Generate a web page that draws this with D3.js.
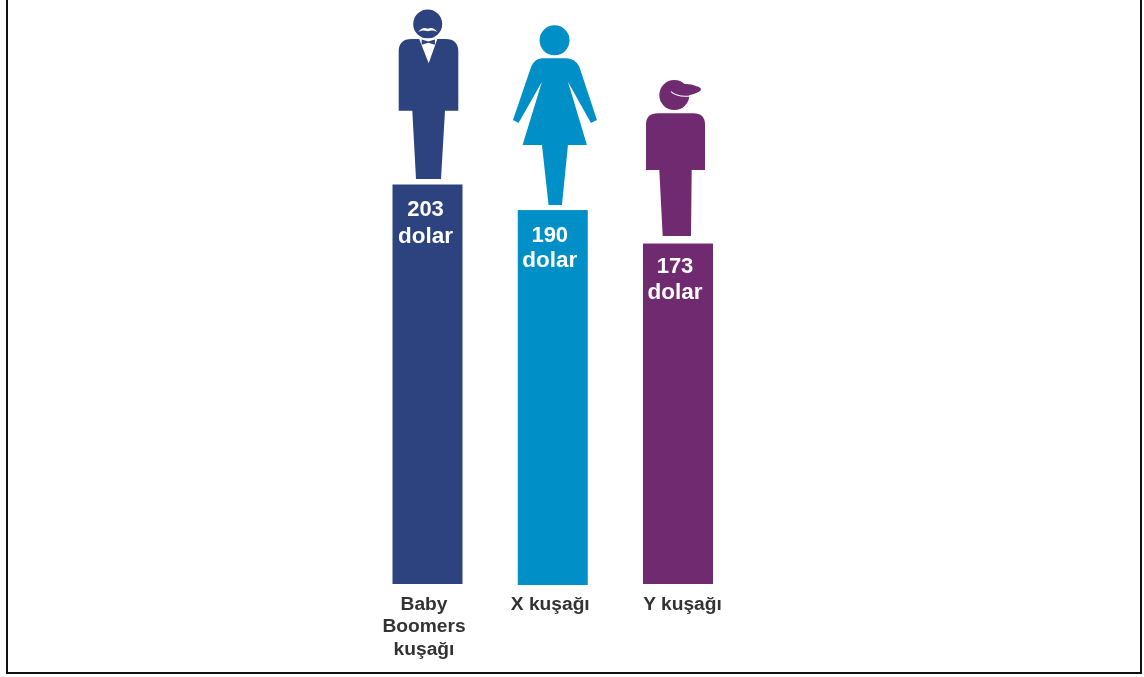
<!DOCTYPE html>
<html><head><meta charset="utf-8">
<style>html,body{margin:0;padding:0;background:#fff}svg{display:block;filter:blur(0.35px)}text{font-family:"Liberation Sans",Arial,sans-serif;font-weight:700}</style>
<script src="https://cdn.jsdelivr.net/npm/d3@7/dist/d3.min.js"></script>
</head><body><div id="chart"></div>
<script>
const generations = ["Baby Boomers kuşağı", "X kuşağı", "Y kuşağı"];
const spending = [203, 190, 173];
const unit = "dolar";
const labelLines = [["Baby", "Boomers", "kuşağı"], ["X kuşağı"], ["Y kuşağı"]];
const barColors = ["#2d437f", "#0090c7", "#702a70"];

const W = 1144, H = 677;
const svg = d3.select("#chart").append("svg").attr("width", W).attr("height", H);

const x = d3.scalePoint().domain(generations).range([427.5, 678]);
const y = d3.scaleLinear().domain([0, 203]).range([584, 184.5]);
const barW = 70;
const bottomNudge = [0, 1, 0];
const valueDx = [-2, -3, -3], labelDx = [-3.5, -2.5, 4.5];
const line1Dy = [31.5, 31.5, 29.5], line2Dy = [58, 56.5, 55];

// Frame
svg.append("path").attr("d", `M7,0V673H1141V0`).attr("fill", "none").attr("stroke", "#111").attr("stroke-width", 2);

// Pictograms, drawn relative to the top-centre of each bar
const man = (g, c) => {
  g.append("circle").attr("cx", .2).attr("cy", -160.5).attr("r", 14.5).attr("fill", c);
  g.append("path").attr("fill", c).attr("d",
    "M-28.8,-133 Q-28.8,-145.5 -16,-145.5 L18,-145.5 Q30.8,-145.5 30.8,-133 L30.8,-73.8 L17.5,-73.8 L13.5,-5.5 L-11.5,-5.5 L-15.2,-73.8 L-28.8,-73.8 Z");
  g.append("path").attr("fill", "#fff").attr("d", "M-8.5,-146 L10,-146 L1.2,-121.2 Z");
  g.append("path").attr("fill", c).attr("d", "M-5.8,-145 L0.8,-143 L7.4,-145 L7.4,-139.8 L0.8,-141.8 L-5.8,-139.8 Z");
  g.append("path").attr("fill", "#fff").attr("d",
    "M-9.2,-152.6 Q-5,-158.4 0.3,-155.8 Q5.5,-158.4 9.8,-152.6 Q5,-155 0.3,-153.2 Q-4.5,-155 -9.2,-152.6 Z");
};
const woman = (g, c) => {
  g.append("circle").attr("cx", 1.8).attr("cy", -169.8).attr("r", 15).attr("fill", c);
  g.append("path").attr("fill", c).attr("d",
    "M-11,-151.8 L14,-151.8 Q22.5,-151.5 26.5,-143.5 L44.2,-90 L38.2,-87 L15.2,-128.4 L34.2,-65 L15.2,-65 L9.2,-5 L-4.2,-5 L-10.8,-65 L-30.2,-65 L-10.8,-128.4 L-34.2,-87 L-39.8,-90 L-21.5,-143.5 Q-18,-151.5 -11,-151.8 Z");
};
const youth = (g, c) => {
  g.append("circle").attr("cx", -3.7).attr("cy", -148.5).attr("r", 15).attr("fill", c);
  g.append("path").attr("fill", c).attr("d",
    "M-6,-158 Q8,-162 21,-156.5 Q25,-154 21,-151.8 Q12,-147.5 3.7,-147.5 Z");
  g.append("path").attr("fill", "none").attr("stroke", "#fff").attr("stroke-width", 1.1).attr("d",
    "M-7,-152 Q-1,-146.3 12,-147.6");
  g.append("path").attr("fill", c).attr("d",
    "M-32,-119 Q-32,-130.2 -20,-130.2 L15,-130.2 Q27,-130.2 27,-119 L27,-73.5 L13.7,-73.5 L13,-7.5 L-15.3,-7.5 L-18.7,-73.5 L-32,-73.5 Z");
};
const icons = [man, woman, youth];

const groups = svg.selectAll("g.bar").data(generations).join("g").attr("class", "bar");

groups.append("rect")
  .attr("x", d => x(d) - barW / 2)
  .attr("width", barW)
  .attr("y", (d, i) => y(spending[i]))
  .attr("height", (d, i) => y(0) - y(spending[i]) + bottomNudge[i])
  .attr("fill", (d, i) => barColors[i]);

groups.append("g")
  .attr("transform", (d, i) => `translate(${x(d)},${y(spending[i])})`)
  .each(function (d, i) { icons[i](d3.select(this), barColors[i]); });

groups.append("text")
  .attr("text-anchor", "middle").attr("fill", "#fff").attr("font-size", 22)
  .attr("x", (d, i) => x(d) + valueDx[i])
  .attr("y", (d, i) => y(spending[i]) + line1Dy[i])
  .text((d, i) => spending[i]);

groups.append("text")
  .attr("text-anchor", "middle").attr("fill", "#fff").attr("font-size", 22.5)
  .attr("x", (d, i) => x(d) + valueDx[i])
  .attr("y", (d, i) => y(spending[i]) + line2Dy[i])
  .text(unit);

groups.append("g").each(function (d, i) {
  d3.select(this).selectAll("text").data(labelLines[i]).join("text")
    .attr("text-anchor", "middle").attr("fill", "#333").attr("font-size", 19.2)
    .attr("x", x(d) + labelDx[i])
    .attr("y", (t, k) => 609.5 + k * 22.5)
    .text(t => t);
});
</script></body></html>
